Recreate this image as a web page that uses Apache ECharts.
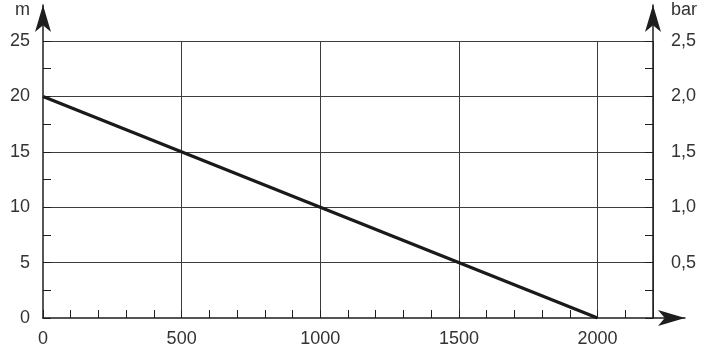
<!DOCTYPE html>
<html>
<head>
<meta charset="utf-8">
<script src="https://cdn.jsdelivr.net/npm/echarts@6/dist/echarts.min.js"></script>
<style>
html,body{margin:0;padding:0;background:#fff;}
#chart{width:705px;height:350px;}
</style>
</head>
<body>
<div id="chart"></div>
<script>
// Data
const flow = [0, 2000];          // x values
const headM = [20, 0];           // head in m
const xTickLabels = [0, 500, 1000, 1500, 2000];
const leftTickLabels = [0, 5, 10, 15, 20, 25];
const rightTickLabels = ['0,5', '1,0', '1,5', '2,0', '2,5'];

const font = '"Liberation Sans", Arial, sans-serif';
const fs = 18;
const txt = '#333';
const gridCol = '#3c3c3c';
const axisCol = '#1e1e1e';

const chart = echarts.init(document.getElementById('chart'), null, {renderer: 'canvas'});

const arrowLine = {
  show: true,
  symbol: ['none', 'arrow'],
  symbolSize: [12, 27],
  lineStyle: {color: axisCol, width: 1.5}
};
const tickStyle = {color: axisCol, width: 1};

chart.setOption({
  animation: false,
  backgroundColor: '#fff',
  grid: [
    {left: 43, right: 52, top: 41, bottom: 32},
    {left: 43, right: 20, top: 5, bottom: 32}
  ],
  xAxis: [
    {
      gridIndex: 0, type: 'value', min: 0, max: 2200, interval: 500, position: 'bottom',
      axisLine: {show: false}, axisTick: {show: false},
      axisLabel: {
        color: txt, fontFamily: font, fontSize: fs, margin: 12,
        formatter: v => xTickLabels.indexOf(v) >= 0 ? String(v) : ''
      },
      splitLine: {show: true, showMinLine: false, lineStyle: {color: gridCol, width: 1}}
    },
    {
      gridIndex: 0, type: 'value', min: 0, max: 2200, interval: 100, position: 'bottom',
      axisLine: {show: false},
      axisTick: {show: true, inside: true, length: 8, lineStyle: tickStyle},
      axisLabel: {show: false}, splitLine: {show: false}
    },
    {
      gridIndex: 1, type: 'value', min: 0, max: 1, position: 'bottom',
      axisLine: arrowLine, axisTick: {show: false}, axisLabel: {show: false}, splitLine: {show: false}
    }
  ],
  yAxis: [
    {
      gridIndex: 0, type: 'value', min: 0, max: 25, interval: 5, position: 'left',
      axisLine: {show: false}, axisTick: {show: false},
      axisLabel: {
        color: txt, fontFamily: font, fontSize: fs, margin: 13,
        formatter: v => leftTickLabels.indexOf(v) >= 0 ? String(v) : ''
      },
      splitLine: {show: true, showMinLine: false, lineStyle: {color: gridCol, width: 1}}
    },
    {
      gridIndex: 0, type: 'value', min: 0, max: 2.5, interval: 0.5, position: 'right',
      axisLine: {show: false}, axisTick: {show: false},
      axisLabel: {
        color: txt, fontFamily: font, fontSize: fs, margin: 18,
        formatter: v => {
          const s = v.toFixed(1).replace('.', ',');
          return rightTickLabels.indexOf(s) >= 0 ? s : '';
        }
      },
      splitLine: {show: false}
    },
    {
      gridIndex: 0, type: 'value', min: 0, max: 25, interval: 2.5, position: 'left',
      axisLine: {show: false},
      axisTick: {show: true, inside: true, length: 8, lineStyle: tickStyle},
      axisLabel: {show: false}, splitLine: {show: false}
    },
    {
      gridIndex: 0, type: 'value', min: 0, max: 25, interval: 2.5, position: 'right',
      axisLine: {show: false},
      axisTick: {show: true, inside: true, length: 8, lineStyle: tickStyle},
      axisLabel: {show: false}, splitLine: {show: false}
    },
    {
      gridIndex: 1, type: 'value', min: 0, max: 1, position: 'left',
      name: 'm', nameLocation: 'end', nameGap: -5,
      nameTextStyle: {color: txt, fontFamily: font, fontSize: fs, align: 'right', verticalAlign: 'middle', padding: [0, 13, 0, 0]},
      axisLine: arrowLine, axisTick: {show: false}, axisLabel: {show: false}, splitLine: {show: false}
    },
    {
      gridIndex: 1, type: 'value', min: 0, max: 1, position: 'right', offset: -32,
      name: 'bar', nameLocation: 'end', nameGap: -5,
      nameTextStyle: {color: txt, fontFamily: font, fontSize: fs, align: 'left', verticalAlign: 'middle', padding: [0, 0, 0, 18]},
      axisLine: arrowLine, axisTick: {show: false}, axisLabel: {show: false}, splitLine: {show: false}
    }
  ],
  series: [{
    type: 'line',
    xAxisIndex: 0, yAxisIndex: 0,
    data: flow.map((x, i) => [x, headM[i]]),
    showSymbol: false, symbol: 'none',
    lineStyle: {color: '#1a1a1a', width: 3.2},
    z: 5
  }]
});
</script>
</body>
</html>
